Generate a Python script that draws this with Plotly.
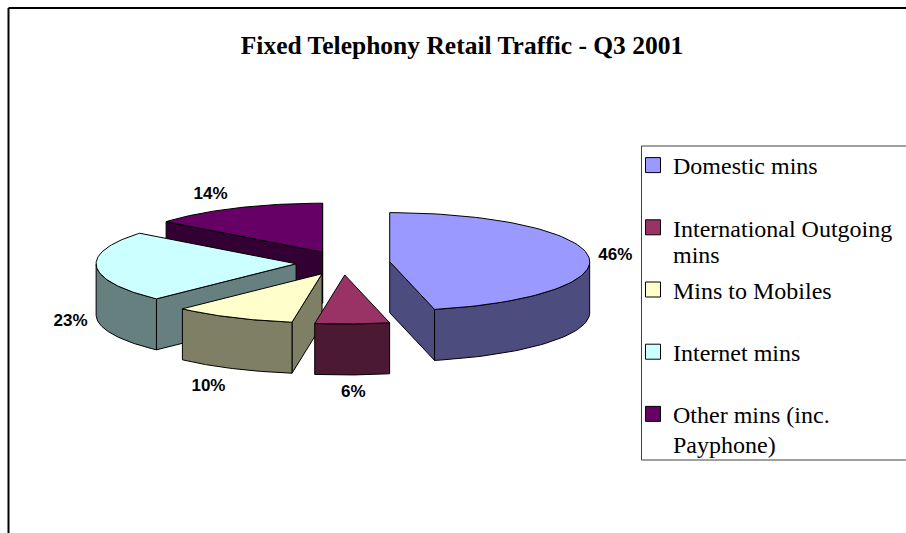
import numpy as np
import plotly.graph_objects as go

# Data
categories = ["Domestic mins", "International Outgoing", "Mins to Mobiles", "Internet mins", "Other mins (inc."]
category_second_lines = ["", "mins", "", "", "Payphone)"]
shares = [46.4, 6.0, 9.9, 23.4, 14.3]
labels = ["46%", "6%", "10%", "23%", "14%"]
title_text = "Fixed Telephony Retail Traffic - Q3 2001"

# Style / geometry
colors = ["#9999FF", "#993366", "#FFFFCC", "#CCFFFF", "#660066"]
CX, CY, RX, RY, DEPTH, EXPLODE, EXPLODE_Y = 343, 263, 200, 49, 51, 47, 12
LBL_RX, LBL_RY = 228, 66
label_nudge = [(-1, 2), (0, 1), (-12, 3), (2, 3), (-13, 2)]
draw_order = [4, 3, 2, 1, 0]
LEGEND_LEFT, LEGEND_TOP, LEGEND_BOTTOM, LEGEND_TEXT_X = 641.5, 146, 460, 672
second_line_y = [None, 255, None, None, 445]


def shade(hex_color):
    r, g, b = (int(hex_color[i:i + 2], 16) // 2 for i in (1, 3, 5))
    return f"#{r:02X}{g:02X}{b:02X}"


def poly(xs, ys, color, **kw):
    return go.Scatter(x=list(xs) + [xs[0]], y=list(ys) + [ys[0]], mode="lines", fill="toself",
                      fillcolor=color, line=dict(color="black", width=1), hoverinfo="skip",
                      showlegend=False, **kw)


fracs = np.array(shares) / sum(shares) * 2 * np.pi
ends = np.cumsum(fracs)
starts = ends - fracs
mids = (starts + ends) / 2
apex_x = CX + EXPLODE * np.sin(mids)
apex_y = CY - EXPLODE_Y * np.cos(mids)

fig = go.Figure()
for i in draw_order:
    a0, a1, ax, ay = starts[i], ends[i], apex_x[i], apex_y[i]
    t = np.linspace(a0, a1, 80)
    rim_x = ax + RX * np.sin(t)
    rim_y = ay - RY * np.cos(t)
    dark = shade(colors[i])
    # radial faces, only those that look toward the viewer
    if np.sin(a0) < -1e-6:
        fig.add_trace(poly([ax, rim_x[0], rim_x[0], ax], [ay, rim_y[0], rim_y[0] + DEPTH, ay + DEPTH], dark))
    if np.sin(a1) > -1e-6:
        fig.add_trace(poly([ax, rim_x[-1], rim_x[-1], ax], [ay, rim_y[-1], rim_y[-1] + DEPTH, ay + DEPTH], dark))
    # outer wall (front part only)
    front = np.cos(t) < 0
    if front.any():
        fx, fy = rim_x[front], rim_y[front]
        fig.add_trace(poly(np.r_[fx, fx[::-1]], np.r_[fy, fy[::-1] + DEPTH], dark))
    # top
    fig.add_trace(poly(np.r_[ax, rim_x], np.r_[ay, rim_y], colors[i]))

# percentage labels
lx = apex_x + LBL_RX * np.sin(mids) + [n[0] for n in label_nudge]
ly = apex_y - LBL_RY * np.cos(mids) + np.where(np.cos(mids) < -0.02, DEPTH, 0) + [n[1] for n in label_nudge]
fig.add_trace(go.Scatter(x=lx, y=ly, mode="text", text=[f"<b>{s}</b>" for s in labels], showlegend=False,
                         hoverinfo="skip", textfont=dict(family="Liberation Sans", size=17, color="black")))

# legend entries
for i, name in enumerate(categories):
    fig.add_trace(go.Scatter(x=[None], y=[None], mode="markers", name=name, legendgroup=str(i),
                             marker=dict(symbol="square", size=15, color=colors[i],
                                         line=dict(color="black", width=1))))

annotations = [
    dict(text=txt, x=LEGEND_TEXT_X, y=yy, xref="x", yref="y", xanchor="left", yanchor="middle", showarrow=False,
         font=dict(family="Liberation Serif", size=24, color="black"), borderpad=0)
    for txt, yy in zip(category_second_lines, second_line_y) if txt
]

fig.update_layout(
    width=906, height=533, margin=dict(l=0, r=0, t=0, b=0),
    paper_bgcolor="white", plot_bgcolor="white",
    xaxis=dict(range=[0, 906], visible=False, fixedrange=True),
    yaxis=dict(range=[533, 0], visible=False, fixedrange=True),
    title=dict(text=f"<b>{title_text}</b>", x=462 / 906, xanchor="center", y=1 - 45 / 533, yanchor="middle",
               font=dict(family="Liberation Serif", size=25.5, color="black")),
    legend=dict(x=637 / 906, xanchor="left", y=1 - 143 / 533, yanchor="top", traceorder="grouped",
                tracegroupgap=28, indentation=-4, bgcolor="rgba(0,0,0,0)", borderwidth=0,
                font=dict(family="Liberation Serif", size=24, color="black")),
    annotations=annotations,
    shapes=[
        dict(type="rect", x0=LEGEND_LEFT, x1=960, y0=LEGEND_TOP, y1=LEGEND_BOTTOM, line=dict(color="#404040", width=1), fillcolor="white", layer="below"),
        dict(type="line", x0=8.5, x1=906, y0=8, y1=8, line=dict(color="black", width=2)),
        dict(type="line", x0=8.5, x1=8.5, y0=8, y1=533, line=dict(color="black", width=2)),
    ],
)
fig.write_html("out.html", config={"displayModeBar": False},
               post_script="document.body.style.margin='0';document.documentElement.style.overflow='hidden';")
